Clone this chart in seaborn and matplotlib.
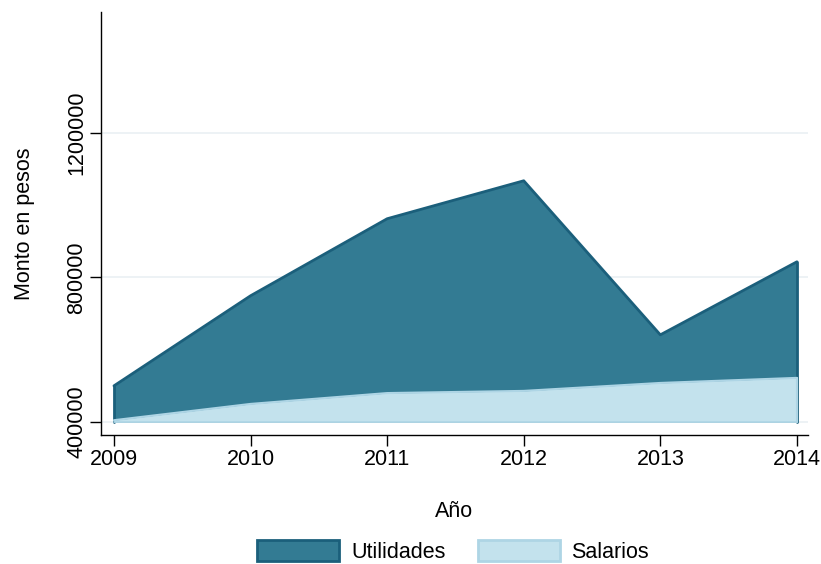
import numpy as np
import pandas as pd
import matplotlib
matplotlib.use('Agg')
import matplotlib.pyplot as plt
import seaborn as sns
from matplotlib.patches import Patch

# Data
years = [2009, 2010, 2011, 2012, 2013, 2014]
utilidades = [500000, 749000, 962000, 1067000, 641000, 843000]
salarios = [405000, 450000, 480000, 486000, 508000, 522000]

df = pd.DataFrame({'Año': years, 'Utilidades': utilidades, 'Salarios': salarios})

sns.set_style('white')
plt.rcParams['font.family'] = ['Liberation Sans', 'DejaVu Sans']
plt.rcParams['text.color'] = 'black'
plt.rcParams['axes.labelcolor'] = 'black'
plt.rcParams['xtick.color'] = 'black'
plt.rcParams['ytick.color'] = 'black'

fig = plt.figure(figsize=(8.21, 5.64), dpi=100)
ax = fig.add_axes([0.123, 0.2287, 0.861, 0.7500])

base = 400000
dark_fill, dark_edge = '#337b93', '#1b5f7b'
light_fill, light_edge = '#c3e2ed', '#aed5e5'

ax.fill_between(df['Año'], base, df['Utilidades'], color=dark_fill, lw=0, zorder=2)
sns.lineplot(x='Año', y='Utilidades', data=df, color=dark_edge, lw=2, ax=ax, zorder=3)
ax.plot([years[0], years[0]], [base, utilidades[0]], color=dark_edge, lw=2, zorder=3)
ax.plot([years[-1], years[-1]], [base, utilidades[-1]], color=dark_edge, lw=2, zorder=3)

ax.fill_between(df['Año'], base, df['Salarios'], color=light_fill, lw=0, zorder=4)
sns.lineplot(x='Año', y='Salarios', data=df, color=light_edge, lw=1.5, ax=ax, zorder=5)
ax.plot([years[-1], years[-1]], [base, salarios[-1]], color=light_edge, lw=1.5, zorder=5)
ax.plot([years[0], years[-1]], [base, base], color=light_edge, lw=1.2, zorder=5)

ax.set_xlim(2008.905, 2014.08)
ax.set_ylim(364000, 1533600)
ax.set_xticks(years)
ax.set_yticks([400000, 800000, 1200000])
ax.set_yticklabels(['400000', '800000', '1200000'], rotation=90, va='center')
ax.yaxis.grid(True, color='#eaf0f3', lw=1.2, zorder=0)
ax.set_axisbelow(True)

for s in ['top', 'right']:
    ax.spines[s].set_visible(False)
for s in ['left', 'bottom']:
    ax.spines[s].set_color('#000000')
    ax.spines[s].set_linewidth(1.0)

ax.tick_params(axis='both', which='major', length=8, width=1, color='#000000',
               labelsize=15.5, direction='out', bottom=True, left=True, pad=2)
ax.set_xlabel('Año', fontsize=15.5)
ax.set_ylabel('Monto en pesos', fontsize=15.5)
ax.xaxis.set_label_coords(0.5, -0.155)
ax.yaxis.set_label_coords(-0.093, 0.5)

handles = [Patch(facecolor=dark_fill, edgecolor=dark_edge, lw=2, label='Utilidades'),
           Patch(facecolor=light_fill, edgecolor=light_edge, lw=2, label='Salarios')]
fig.legend(handles=handles, loc='center', bbox_to_anchor=(0.552, 0.022), ncol=2,
           frameon=False, fontsize=15.5, handlelength=3.8, handleheight=1.1,
           columnspacing=1.5, handletextpad=0.55, borderpad=0.0)

fig.savefig('out.png', dpi=100)
